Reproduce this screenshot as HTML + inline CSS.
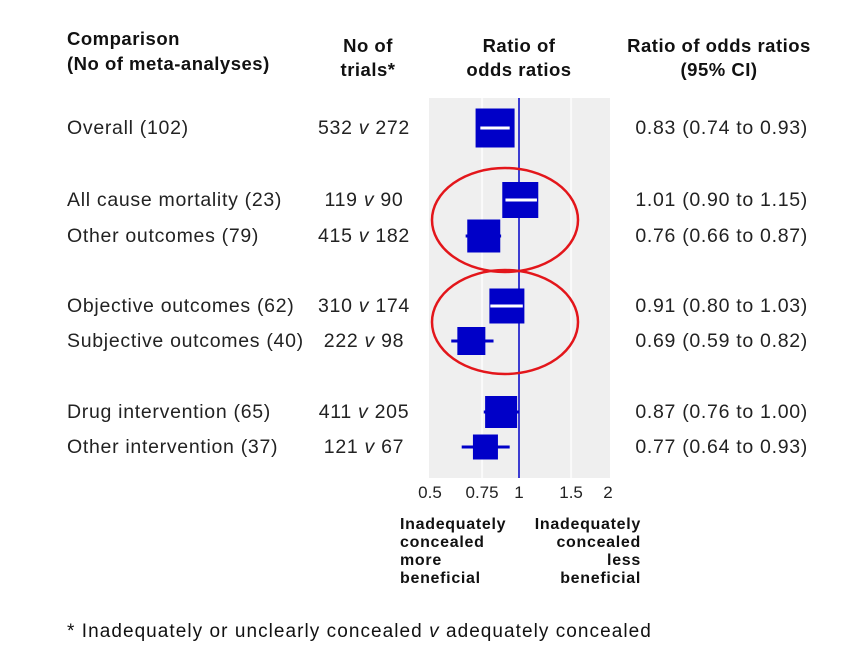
<!DOCTYPE html>
<html><head><meta charset="utf-8"><style>
html,body{margin:0;padding:0;background:#fff;}
svg{display:block;font-family:"Liberation Sans",sans-serif;}
</style></head><body>
<svg id="chart" width="858" height="649" viewBox="0 0 858 649" xmlns="http://www.w3.org/2000/svg">
<g font-weight="bold" font-size="18.5" letter-spacing="0.5" fill="#111">
<text x="67" y="45">Comparison</text>
<text x="67" y="70">(No of meta-analyses)</text>
<text x="368" y="52" text-anchor="middle">No of</text>
<text x="368" y="76" text-anchor="middle">trials*</text>
<text x="519" y="52" text-anchor="middle">Ratio of</text>
<text x="519" y="76" text-anchor="middle">odds ratios</text>
<text x="719" y="52" text-anchor="middle">Ratio of odds ratios</text>
<text x="719" y="76" text-anchor="middle">(95% CI)</text>
</g>
<rect x="429" y="98" width="181" height="380" fill="#efefef"/>
<g id="grid"></g>
<g id="refg"></g>
<g id="rows"></g>
<g id="marks"></g>
<g id="ticks" font-size="17" fill="#222"></g>
<ellipse cx="505" cy="220" rx="73" ry="52" fill="none" stroke="#e3161b" stroke-width="2.5"/>
<ellipse cx="505" cy="322" rx="73" ry="52" fill="none" stroke="#e3161b" stroke-width="2.5"/>
<g font-weight="bold" font-size="16" letter-spacing="0.7" fill="#111">
<text x="400" y="529">Inadequately</text>
<text x="400" y="547">concealed</text>
<text x="400" y="565">more</text>
<text x="400" y="583">beneficial</text>
<text x="641" y="529" text-anchor="end">Inadequately</text>
<text x="641" y="547" text-anchor="end">concealed</text>
<text x="641" y="565" text-anchor="end">less</text>
<text x="641" y="583" text-anchor="end">beneficial</text>
</g>
<text x="67" y="637" font-size="19" letter-spacing="1.05" fill="#111">* Inadequately or unclearly concealed <tspan font-style="italic">v</tspan> adequately concealed</text>
</svg>
<script>
const labels=["Overall (102)","All cause mortality (23)","Other outcomes (79)","Objective outcomes (62)","Subjective outcomes (40)","Drug intervention (65)","Other intervention (37)"];
const trialsA=[532,119,415,310,222,411,121];
const trialsB=[272,90,182,174,98,205,67];
const estimates=[0.83,1.01,0.76,0.91,0.69,0.87,0.77];
const lower=[0.74,0.90,0.66,0.80,0.59,0.76,0.64];
const upper=[0.93,1.15,0.87,1.03,0.82,1.00,0.93];
const weights=[39,36,33,35,28,32,25];
const tickValues=[0.5,0.75,1,1.5,2];
const tickLabels=["0.5","0.75","1","1.5","2"];
const rowY=[128,200,236,306,341,412,447];
const NS="http://www.w3.org/2000/svg";
function xs(v){return 519+89*Math.log2(v);}
function mk(tag,attrs,parent){const e=document.createElementNS(NS,tag);for(const k in attrs)e.setAttribute(k,attrs[k]);document.getElementById(parent).appendChild(e);return e;}
tickValues.forEach((v,i)=>{
  if(v!==1&&v!==0.5&&v!==2){const g=mk('line',{x1:xs(v),x2:xs(v),y1:98,y2:478,stroke:'#fafafa','stroke-width':2},'grid');
  
  }
  const t=mk('text',{x:xs(v),y:498,'text-anchor':'middle'},'ticks');t.textContent=tickLabels[i];
  
  
});
const ref=mk('line',{x1:xs(1),x2:xs(1),y1:98,y2:478,stroke:'#0000c8','stroke-width':1.5},'refg');


labels.forEach((l,i)=>{
  const y=rowY[i];
  const a=mk('text',{x:67,y:y+6,'font-size':19.5,'letter-spacing':0.7,fill:'#222'},'rows');a.textContent=l;
  
  
  const b=mk('text',{x:364,y:y+6,'font-size':19.5,'letter-spacing':0.7,fill:'#222','text-anchor':'middle'},'rows');
  b.innerHTML=trialsA[i]+' <tspan font-style="italic">v</tspan> '+trialsB[i];
  
  
  const c=mk('text',{x:808,y:y+6,'font-size':19.5,'letter-spacing':0.7,fill:'#222','text-anchor':'end'},'rows');
  c.textContent=estimates[i].toFixed(2)+' ('+lower[i].toFixed(2)+' to '+upper[i].toFixed(2)+')';
  
  
  const s=weights[i];
  const cx=xs(estimates[i]);
  const ci=mk('line',{x1:xs(lower[i]),x2:xs(upper[i]),y1:y,y2:y,stroke:'#0000c8','stroke-width':3},'marks');
  
  
  const r=mk('rect',{x:cx-s/2,y:y-s/2,width:s,height:s,fill:'#0000c8'},'marks');
  
  
  if(xs(lower[i])>=cx-s/2 && xs(upper[i])<=cx+s/2){
    const ci2=mk('line',{x1:xs(lower[i]),x2:xs(upper[i]),y1:y,y2:y,stroke:'#fff','stroke-width':3},'marks');
    
    
  }
});
</script>
</body></html>
